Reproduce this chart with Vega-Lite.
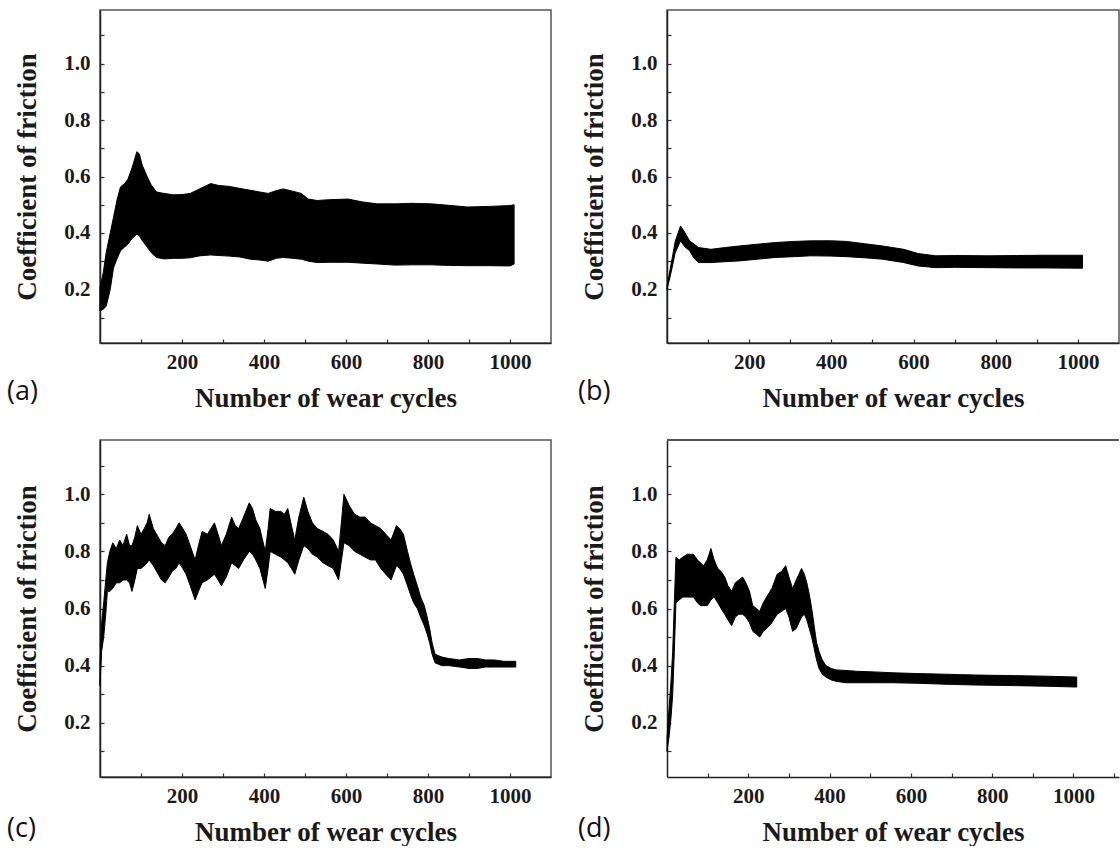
{
  "$schema": "https://vega.github.io/schema/vega-lite/v6.json",
  "background": "white",
  "autosize": {"type": "pad"},
  "padding": {"left": 6, "top": 9, "right": 0, "bottom": 0},
  "datasets": {
    "a": [
      {"cycle": 0, "lo": 0.123, "hi": 0.206}, {"cycle": 8, "lo": 0.13, "hi": 0.26}, {"cycle": 15, "lo": 0.14, "hi": 0.33},
      {"cycle": 25, "lo": 0.2, "hi": 0.4}, {"cycle": 33, "lo": 0.277, "hi": 0.456}, {"cycle": 42, "lo": 0.31, "hi": 0.52},
      {"cycle": 50, "lo": 0.337, "hi": 0.563}, {"cycle": 60, "lo": 0.35, "hi": 0.575}, {"cycle": 68, "lo": 0.36, "hi": 0.59},
      {"cycle": 78, "lo": 0.38, "hi": 0.63}, {"cycle": 90, "lo": 0.396, "hi": 0.688}, {"cycle": 96, "lo": 0.39, "hi": 0.68},
      {"cycle": 103, "lo": 0.373, "hi": 0.64}, {"cycle": 115, "lo": 0.35, "hi": 0.6}, {"cycle": 125, "lo": 0.33, "hi": 0.57},
      {"cycle": 138, "lo": 0.313, "hi": 0.545}, {"cycle": 156, "lo": 0.308, "hi": 0.54}, {"cycle": 180, "lo": 0.31, "hi": 0.535},
      {"cycle": 200, "lo": 0.31, "hi": 0.536}, {"cycle": 220, "lo": 0.312, "hi": 0.54}, {"cycle": 244, "lo": 0.319, "hi": 0.557},
      {"cycle": 270, "lo": 0.322, "hi": 0.575}, {"cycle": 290, "lo": 0.32, "hi": 0.568}, {"cycle": 315, "lo": 0.318, "hi": 0.565},
      {"cycle": 340, "lo": 0.315, "hi": 0.558}, {"cycle": 367, "lo": 0.307, "hi": 0.551}, {"cycle": 390, "lo": 0.304, "hi": 0.545},
      {"cycle": 410, "lo": 0.3, "hi": 0.54}, {"cycle": 430, "lo": 0.31, "hi": 0.55}, {"cycle": 447, "lo": 0.313, "hi": 0.556},
      {"cycle": 470, "lo": 0.31, "hi": 0.548}, {"cycle": 491, "lo": 0.307, "hi": 0.54}, {"cycle": 508, "lo": 0.3, "hi": 0.52},
      {"cycle": 530, "lo": 0.295, "hi": 0.515}, {"cycle": 560, "lo": 0.296, "hi": 0.518}, {"cycle": 605, "lo": 0.296, "hi": 0.52},
      {"cycle": 640, "lo": 0.293, "hi": 0.51}, {"cycle": 676, "lo": 0.29, "hi": 0.503}, {"cycle": 720, "lo": 0.286, "hi": 0.503},
      {"cycle": 760, "lo": 0.287, "hi": 0.505}, {"cycle": 808, "lo": 0.287, "hi": 0.503}, {"cycle": 850, "lo": 0.285, "hi": 0.498},
      {"cycle": 896, "lo": 0.284, "hi": 0.492}, {"cycle": 950, "lo": 0.284, "hi": 0.494}, {"cycle": 1000, "lo": 0.283, "hi": 0.497},
      {"cycle": 1010, "lo": 0.29, "hi": 0.5}
    ],
    "b": [
      {"cycle": 0, "lo": 0.2, "hi": 0.21}, {"cycle": 10, "lo": 0.26, "hi": 0.29}, {"cycle": 20, "lo": 0.33, "hi": 0.37},
      {"cycle": 33, "lo": 0.372, "hi": 0.425}, {"cycle": 44, "lo": 0.35, "hi": 0.4}, {"cycle": 55, "lo": 0.337, "hi": 0.372},
      {"cycle": 66, "lo": 0.31, "hi": 0.36}, {"cycle": 77, "lo": 0.295, "hi": 0.348}, {"cycle": 107, "lo": 0.295, "hi": 0.342},
      {"cycle": 140, "lo": 0.298, "hi": 0.348}, {"cycle": 177, "lo": 0.301, "hi": 0.354}, {"cycle": 220, "lo": 0.307, "hi": 0.36},
      {"cycle": 263, "lo": 0.313, "hi": 0.366}, {"cycle": 310, "lo": 0.316, "hi": 0.37}, {"cycle": 350, "lo": 0.319, "hi": 0.372},
      {"cycle": 400, "lo": 0.318, "hi": 0.372}, {"cycle": 437, "lo": 0.316, "hi": 0.37}, {"cycle": 480, "lo": 0.312, "hi": 0.362},
      {"cycle": 524, "lo": 0.307, "hi": 0.354}, {"cycle": 576, "lo": 0.295, "hi": 0.342}, {"cycle": 611, "lo": 0.283, "hi": 0.327},
      {"cycle": 654, "lo": 0.277, "hi": 0.319}, {"cycle": 700, "lo": 0.278, "hi": 0.32}, {"cycle": 784, "lo": 0.277, "hi": 0.319},
      {"cycle": 850, "lo": 0.276, "hi": 0.32}, {"cycle": 920, "lo": 0.276, "hi": 0.321}, {"cycle": 1011, "lo": 0.275, "hi": 0.321}
    ],
    "c": [
      {"cycle": 0, "lo": 0.33, "hi": 0.4}, {"cycle": 4, "lo": 0.45, "hi": 0.55}, {"cycle": 9, "lo": 0.5, "hi": 0.62},
      {"cycle": 14, "lo": 0.58, "hi": 0.7}, {"cycle": 18, "lo": 0.66, "hi": 0.76}, {"cycle": 24, "lo": 0.66, "hi": 0.8},
      {"cycle": 31, "lo": 0.67, "hi": 0.83}, {"cycle": 40, "lo": 0.69, "hi": 0.81}, {"cycle": 48, "lo": 0.69, "hi": 0.84},
      {"cycle": 56, "lo": 0.7, "hi": 0.82}, {"cycle": 65, "lo": 0.7, "hi": 0.86}, {"cycle": 72, "lo": 0.69, "hi": 0.82},
      {"cycle": 78, "lo": 0.66, "hi": 0.82}, {"cycle": 85, "lo": 0.7, "hi": 0.85}, {"cycle": 91, "lo": 0.74, "hi": 0.89},
      {"cycle": 100, "lo": 0.74, "hi": 0.86}, {"cycle": 108, "lo": 0.75, "hi": 0.88}, {"cycle": 115, "lo": 0.76, "hi": 0.9},
      {"cycle": 120, "lo": 0.77, "hi": 0.93}, {"cycle": 130, "lo": 0.75, "hi": 0.88}, {"cycle": 142, "lo": 0.72, "hi": 0.85},
      {"cycle": 150, "lo": 0.7, "hi": 0.83}, {"cycle": 159, "lo": 0.69, "hi": 0.82}, {"cycle": 168, "lo": 0.71, "hi": 0.85},
      {"cycle": 176, "lo": 0.73, "hi": 0.86}, {"cycle": 185, "lo": 0.74, "hi": 0.88}, {"cycle": 193, "lo": 0.76, "hi": 0.9},
      {"cycle": 202, "lo": 0.74, "hi": 0.88}, {"cycle": 210, "lo": 0.72, "hi": 0.86}, {"cycle": 220, "lo": 0.68, "hi": 0.82},
      {"cycle": 232, "lo": 0.63, "hi": 0.77}, {"cycle": 240, "lo": 0.66, "hi": 0.82}, {"cycle": 249, "lo": 0.69, "hi": 0.87},
      {"cycle": 262, "lo": 0.7, "hi": 0.86}, {"cycle": 279, "lo": 0.72, "hi": 0.9}, {"cycle": 288, "lo": 0.7, "hi": 0.86},
      {"cycle": 296, "lo": 0.68, "hi": 0.82}, {"cycle": 308, "lo": 0.71, "hi": 0.86}, {"cycle": 321, "lo": 0.76, "hi": 0.92},
      {"cycle": 330, "lo": 0.75, "hi": 0.89}, {"cycle": 338, "lo": 0.74, "hi": 0.88}, {"cycle": 350, "lo": 0.77, "hi": 0.92},
      {"cycle": 364, "lo": 0.8, "hi": 0.97}, {"cycle": 372, "lo": 0.79, "hi": 0.95}, {"cycle": 380, "lo": 0.77, "hi": 0.91},
      {"cycle": 390, "lo": 0.74, "hi": 0.88}, {"cycle": 403, "lo": 0.67, "hi": 0.8}, {"cycle": 410, "lo": 0.74, "hi": 0.88},
      {"cycle": 415, "lo": 0.8, "hi": 0.95}, {"cycle": 428, "lo": 0.79, "hi": 0.94}, {"cycle": 441, "lo": 0.78, "hi": 0.94},
      {"cycle": 450, "lo": 0.77, "hi": 0.93}, {"cycle": 458, "lo": 0.76, "hi": 0.95}, {"cycle": 467, "lo": 0.74, "hi": 0.89},
      {"cycle": 475, "lo": 0.72, "hi": 0.84}, {"cycle": 485, "lo": 0.77, "hi": 0.92}, {"cycle": 497, "lo": 0.82, "hi": 0.99},
      {"cycle": 507, "lo": 0.81, "hi": 0.94}, {"cycle": 518, "lo": 0.79, "hi": 0.9}, {"cycle": 530, "lo": 0.78, "hi": 0.88},
      {"cycle": 544, "lo": 0.76, "hi": 0.87}, {"cycle": 556, "lo": 0.75, "hi": 0.86}, {"cycle": 569, "lo": 0.74, "hi": 0.84},
      {"cycle": 582, "lo": 0.7, "hi": 0.8}, {"cycle": 590, "lo": 0.78, "hi": 0.92}, {"cycle": 595, "lo": 0.83, "hi": 1.0},
      {"cycle": 608, "lo": 0.82, "hi": 0.96}, {"cycle": 621, "lo": 0.8, "hi": 0.93}, {"cycle": 634, "lo": 0.79, "hi": 0.92},
      {"cycle": 646, "lo": 0.78, "hi": 0.92}, {"cycle": 660, "lo": 0.77, "hi": 0.9}, {"cycle": 672, "lo": 0.77, "hi": 0.89},
      {"cycle": 685, "lo": 0.74, "hi": 0.88}, {"cycle": 697, "lo": 0.72, "hi": 0.86}, {"cycle": 710, "lo": 0.7, "hi": 0.84},
      {"cycle": 723, "lo": 0.75, "hi": 0.89}, {"cycle": 731, "lo": 0.74, "hi": 0.88}, {"cycle": 740, "lo": 0.72, "hi": 0.86},
      {"cycle": 750, "lo": 0.68, "hi": 0.8}, {"cycle": 757, "lo": 0.65, "hi": 0.76}, {"cycle": 765, "lo": 0.62, "hi": 0.72},
      {"cycle": 774, "lo": 0.6, "hi": 0.68}, {"cycle": 782, "lo": 0.57, "hi": 0.64}, {"cycle": 791, "lo": 0.54, "hi": 0.61},
      {"cycle": 798, "lo": 0.51, "hi": 0.57}, {"cycle": 804, "lo": 0.48, "hi": 0.53}, {"cycle": 810, "lo": 0.44, "hi": 0.48},
      {"cycle": 817, "lo": 0.41, "hi": 0.44}, {"cycle": 825, "lo": 0.405, "hi": 0.435}, {"cycle": 834, "lo": 0.4, "hi": 0.43},
      {"cycle": 850, "lo": 0.4, "hi": 0.425}, {"cycle": 877, "lo": 0.395, "hi": 0.42}, {"cycle": 900, "lo": 0.39, "hi": 0.425},
      {"cycle": 920, "lo": 0.39, "hi": 0.425}, {"cycle": 940, "lo": 0.395, "hi": 0.42}, {"cycle": 962, "lo": 0.395, "hi": 0.42},
      {"cycle": 985, "lo": 0.395, "hi": 0.415}, {"cycle": 1014, "lo": 0.395, "hi": 0.415}
    ],
    "d": [
      {"cycle": 0, "lo": 0.1, "hi": 0.15}, {"cycle": 5, "lo": 0.15, "hi": 0.25}, {"cycle": 10, "lo": 0.22, "hi": 0.35},
      {"cycle": 14, "lo": 0.3, "hi": 0.45}, {"cycle": 18, "lo": 0.45, "hi": 0.62}, {"cycle": 22, "lo": 0.62, "hi": 0.78},
      {"cycle": 30, "lo": 0.63, "hi": 0.77}, {"cycle": 39, "lo": 0.64, "hi": 0.78}, {"cycle": 50, "lo": 0.64, "hi": 0.79},
      {"cycle": 65, "lo": 0.64, "hi": 0.79}, {"cycle": 75, "lo": 0.62, "hi": 0.77}, {"cycle": 82, "lo": 0.61, "hi": 0.76},
      {"cycle": 90, "lo": 0.61, "hi": 0.75}, {"cycle": 99, "lo": 0.61, "hi": 0.77}, {"cycle": 108, "lo": 0.63, "hi": 0.81},
      {"cycle": 116, "lo": 0.64, "hi": 0.77}, {"cycle": 125, "lo": 0.62, "hi": 0.74}, {"cycle": 133, "lo": 0.6, "hi": 0.73},
      {"cycle": 142, "lo": 0.58, "hi": 0.71}, {"cycle": 150, "lo": 0.56, "hi": 0.68}, {"cycle": 159, "lo": 0.54, "hi": 0.66},
      {"cycle": 168, "lo": 0.57, "hi": 0.69}, {"cycle": 177, "lo": 0.58, "hi": 0.7}, {"cycle": 186, "lo": 0.58, "hi": 0.71},
      {"cycle": 194, "lo": 0.57, "hi": 0.69}, {"cycle": 203, "lo": 0.55, "hi": 0.66}, {"cycle": 211, "lo": 0.52, "hi": 0.61},
      {"cycle": 220, "lo": 0.51, "hi": 0.6}, {"cycle": 228, "lo": 0.5, "hi": 0.59}, {"cycle": 237, "lo": 0.52, "hi": 0.62},
      {"cycle": 245, "lo": 0.53, "hi": 0.64}, {"cycle": 258, "lo": 0.55, "hi": 0.67}, {"cycle": 271, "lo": 0.58, "hi": 0.72},
      {"cycle": 282, "lo": 0.59, "hi": 0.73}, {"cycle": 292, "lo": 0.6, "hi": 0.75}, {"cycle": 300, "lo": 0.57, "hi": 0.71},
      {"cycle": 309, "lo": 0.52, "hi": 0.67}, {"cycle": 318, "lo": 0.53, "hi": 0.7}, {"cycle": 331, "lo": 0.57, "hi": 0.74},
      {"cycle": 338, "lo": 0.58, "hi": 0.72}, {"cycle": 344, "lo": 0.56, "hi": 0.69}, {"cycle": 350, "lo": 0.53, "hi": 0.65},
      {"cycle": 356, "lo": 0.5, "hi": 0.6}, {"cycle": 362, "lo": 0.46, "hi": 0.54}, {"cycle": 368, "lo": 0.42, "hi": 0.48},
      {"cycle": 374, "lo": 0.39, "hi": 0.45}, {"cycle": 382, "lo": 0.37, "hi": 0.42}, {"cycle": 391, "lo": 0.36, "hi": 0.4},
      {"cycle": 404, "lo": 0.35, "hi": 0.39}, {"cycle": 416, "lo": 0.345, "hi": 0.385}, {"cycle": 440, "lo": 0.34, "hi": 0.383},
      {"cycle": 468, "lo": 0.34, "hi": 0.38}, {"cycle": 510, "lo": 0.34, "hi": 0.378}, {"cycle": 554, "lo": 0.34, "hi": 0.375},
      {"cycle": 620, "lo": 0.338, "hi": 0.372}, {"cycle": 682, "lo": 0.335, "hi": 0.37}, {"cycle": 760, "lo": 0.332, "hi": 0.367},
      {"cycle": 853, "lo": 0.33, "hi": 0.365}, {"cycle": 930, "lo": 0.328, "hi": 0.363}, {"cycle": 1008, "lo": 0.325, "hi": 0.36}
    ]
  },
  "config": {
    "view": {"stroke": "#555", "strokeWidth": 1.5},
    "axis": {
      "grid": false,
      "domainColor": "#222", "domainWidth": 1.5,
      "tickColor": "#333", "tickWidth": 1.2, "tickSize": -4,
      "labelFont": "Liberation Serif", "labelFontWeight": "bold", "labelFontSize": 21, "labelColor": "#1a1a1a",
      "titleFont": "Liberation Serif", "titleFontWeight": "bold", "titleFontSize": 27, "titleColor": "#1a1a1a"
    }
  },
  "bounds": "flush",
  "columns": 2,
  "spacing": {"row": 97, "column": 116},
  "concat": [
    {
      "width": 451, "height": 333,
      "data": {"name": "a"},
      "title": {"text": "(a)", "orient": "bottom", "anchor": "start", "frame": "group", "font": "Open Sans", "fontSize": 27, "fontWeight": "normal", "color": "#111", "dx": -93, "dy": -36},
      "mark": {"type": "area", "color": "black", "stroke": "black", "strokeWidth": 1},
      "encoding": {
        "x": {"field": "cycle", "type": "quantitative", "scale": {"domain": [0, 1100], "nice": false, "zero": false},
              "axis": {"title": "Number of wear cycles", "values": [100, 200, 300, 400, 500, 600, 700, 800, 900, 1000], "labelExpr": "datum.value % 200 == 0 ? format(datum.value, 'd') : ''", "labelPadding": 12, "titlePadding": 13}},
        "y": {"field": "lo", "type": "quantitative", "scale": {"domain": [0.01, 1.19], "nice": false, "zero": false},
              "axis": {"title": "Coefficient of friction", "values": [0.1, 0.2, 0.3, 0.4, 0.5, 0.6, 0.7, 0.8, 0.9, 1.0, 1.1], "labelExpr": "round(datum.value * 10) % 2 == 0 ? format(datum.value, '.1f') : ''", "labelPadding": 14, "titlePadding": 22}},
        "y2": {"field": "hi"}
      }
    },
    {
      "width": 452, "height": 333,
      "data": {"name": "b"},
      "title": {"text": "(b)", "orient": "bottom", "anchor": "start", "frame": "group", "font": "Open Sans", "fontSize": 27, "fontWeight": "normal", "color": "#111", "dx": -89, "dy": -36},
      "mark": {"type": "area", "color": "black", "stroke": "black", "strokeWidth": 1},
      "encoding": {
        "x": {"field": "cycle", "type": "quantitative", "scale": {"domain": [0, 1100], "nice": false, "zero": false},
              "axis": {"title": "Number of wear cycles", "values": [100, 200, 300, 400, 500, 600, 700, 800, 900, 1000], "labelExpr": "datum.value % 200 == 0 ? format(datum.value, 'd') : ''", "labelPadding": 12, "titlePadding": 13}},
        "y": {"field": "lo", "type": "quantitative", "scale": {"domain": [0.01, 1.19], "nice": false, "zero": false},
              "axis": {"title": "Coefficient of friction", "values": [0.1, 0.2, 0.3, 0.4, 0.5, 0.6, 0.7, 0.8, 0.9, 1.0, 1.1], "labelExpr": "round(datum.value * 10) % 2 == 0 ? format(datum.value, '.1f') : ''", "labelPadding": 14, "titlePadding": 22}},
        "y2": {"field": "hi"}
      }
    },
    {
      "width": 451, "height": 337,
      "data": {"name": "c"},
      "title": {"text": "(c)", "orient": "bottom", "anchor": "start", "frame": "group", "font": "Open Sans", "fontSize": 27, "fontWeight": "normal", "color": "#111", "dx": -93, "dy": -33},
      "mark": {"type": "area", "color": "black", "stroke": "black", "strokeWidth": 1},
      "encoding": {
        "x": {"field": "cycle", "type": "quantitative", "scale": {"domain": [0, 1100], "nice": false, "zero": false},
              "axis": {"title": "Number of wear cycles", "values": [100, 200, 300, 400, 500, 600, 700, 800, 900, 1000], "labelExpr": "datum.value % 200 == 0 ? format(datum.value, 'd') : ''", "labelPadding": 12, "titlePadding": 13}},
        "y": {"field": "lo", "type": "quantitative", "scale": {"domain": [0.01, 1.19], "nice": false, "zero": false},
              "axis": {"title": "Coefficient of friction", "values": [0.1, 0.2, 0.3, 0.4, 0.5, 0.6, 0.7, 0.8, 0.9, 1.0, 1.1], "labelExpr": "round(datum.value * 10) % 2 == 0 ? format(datum.value, '.1f') : ''", "labelPadding": 14, "titlePadding": 22}},
        "y2": {"field": "hi"}
      }
    },
    {
      "width": 452, "height": 337,
      "data": {"name": "d"},
      "view": {"stroke": null},
      "title": {"text": "(d)", "orient": "bottom", "anchor": "start", "frame": "group", "font": "Open Sans", "fontSize": 27, "fontWeight": "normal", "color": "#111", "dx": -89, "dy": -33},
      "resolve": {"axis": {"y": "independent"}},
      "layer": [
        {
          "mark": {"type": "area", "color": "black", "stroke": "black", "strokeWidth": 1},
          "encoding": {
            "x": {"field": "cycle", "type": "quantitative", "scale": {"domain": [0, 1112], "nice": false, "zero": false},
                  "axis": {"title": "Number of wear cycles", "values": [100, 200, 300, 400, 500, 600, 700, 800, 900, 1000, 1100], "labelExpr": "datum.value % 200 == 0 ? format(datum.value, 'd') : ''", "labelPadding": 12, "titlePadding": 13}},
            "y": {"field": "lo", "type": "quantitative", "scale": {"domain": [0.01, 1.19], "nice": false, "zero": false},
                  "axis": {"orient": "left", "title": "Coefficient of friction", "values": [0.1, 0.2, 0.3, 0.4, 0.5, 0.6, 0.7, 0.8, 0.9, 1.0, 1.1], "labelExpr": "round(datum.value * 10) % 2 == 0 ? format(datum.value, '.1f') : ''", "labelPadding": 14, "titlePadding": 22}},
            "y2": {"field": "hi"}
          }
        },
        {
          "mark": {"type": "rule", "color": "#555", "strokeWidth": 1.5},
          "encoding": {"y": {"datum": 1.19, "type": "quantitative", "axis": {"orient": "right", "domain": false, "ticks": false, "labels": false, "title": null}}}
        }
      ]
    }
  ]
}
